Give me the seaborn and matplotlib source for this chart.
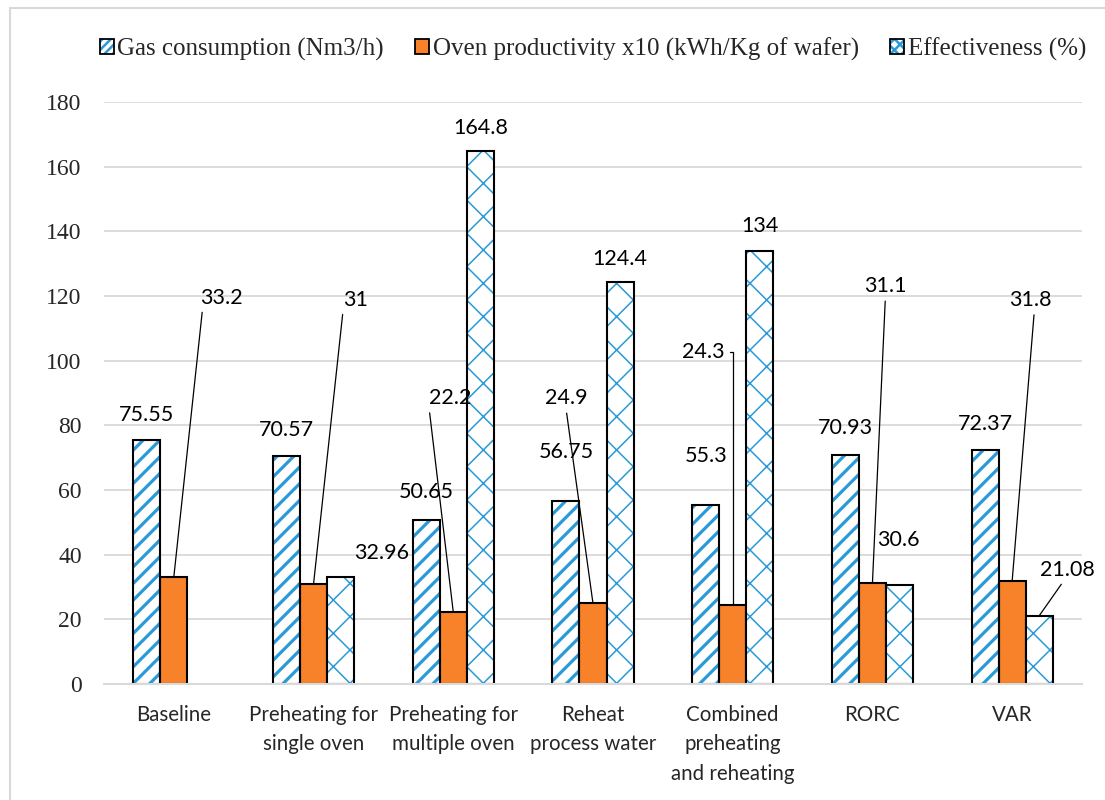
import numpy as np
import pandas as pd
import seaborn as sns
import matplotlib.pyplot as plt
from matplotlib.patches import Patch, Rectangle
from matplotlib.legend_handler import HandlerTuple
from matplotlib.lines import Line2D

# ---- data -------------------------------------------------------------
categories = ["Baseline", "Preheating for\nsingle oven", "Preheating for\nmultiple oven",
              "Reheat\nprocess water", "Combined\npreheating\nand reheating", "RORC", "VAR"]
series = ["Gas consumption (Nm3/h)",
          "Oven productivity x10 (kWh/Kg of wafer)",
          "Effectiveness (%)"]
gas = [75.55, 70.57, 50.65, 56.75, 55.3, 70.93, 72.37]
oven = [33.2, 31, 22.2, 24.9, 24.3, 31.1, 31.8]
effect = [np.nan, 32.96, 164.8, 124.4, 134, 30.6, 21.08]
y_ticks = [0, 20, 40, 60, 80, 100, 120, 140, 160, 180]

df = pd.DataFrame({
    "category": categories * 3,
    "series": [s for s in series for _ in categories],
    "value": gas + oven + effect,
})

# ---- styling ----------------------------------------------------------
BLUE = "#2A9AD8"
ORANGE = "#F7822A"
GRID = "#D9D9D9"
SERIF = ["Liberation Serif", "DejaVu Serif"]
SANS = ["Lato", "DejaVu Sans"]

sns.set_style("white")
plt.rcParams["font.family"] = SANS
plt.rcParams["hatch.linewidth"] = 1.8

fig = plt.figure(figsize=(11.05, 8), dpi=100)
W, H = 1105, 800
ax = fig.add_axes([104 / W, 1 - 684 / H, (1082 - 104) / W, 582 / H])

sns.barplot(data=df, x="category", y="value", hue="series",
            order=categories, hue_order=series,
            palette=["white", ORANGE, "white"], saturation=1,
            width=0.58, gap=0, errorbar=None, legend=False, ax=ax)

hatches = ["//", None, "x"]
hatch_lw = [2.3, None, 1.1]
for k, cont in enumerate(ax.containers):
    for bar in cont:
        h = bar.get_height()
        if h is None or np.isnan(h):
            bar.set_visible(False)
            continue
        if hatches[k]:
            bar.set_facecolor("white")
            bar.set_edgecolor(BLUE)
            bar.set_linewidth(0)
            bar.set_hatch(hatches[k])
            if hasattr(bar, "set_hatch_linewidth"):
                bar.set_hatch_linewidth(hatch_lw[k])
            ax.add_patch(Rectangle(bar.get_xy(), bar.get_width(), h,
                                   fill=False, edgecolor="black", linewidth=1.5,
                                   zorder=bar.get_zorder() + 0.1))
        else:
            bar.set_edgecolor("black")
            bar.set_linewidth(1.5)

# ---- value labels -----------------------------------------------------
label_kw = dict(textcoords="offset pixels", ha="center", va="center",
                fontsize=15.5, family=SANS, color="black")
line_kw = dict(arrowstyle="-", color="black", lw=0.9, shrinkA=1, shrinkB=0)

gas_off = [(0, 25), (0, 26), (0, 28), (0, 49), (0, 49), (0, 27), (0, 26)]
oven_off = [(48, 279), (42, 284), (-3, 214), (-27, 205), (-29, 253), (13, 297), (18, 281)]
oven_rel = [(0.05, 0), (0, 0), (0, 0), (0.5, 0), (1, 0.5), (0.5, 0), (0.6, 0)]
eff_off = [None, (41, 24), (0, 23), (0, 23), (0, 25), (-1, 45), (28, 46)]


def fmt(v):
    return f"{v:g}"


for k, cont in enumerate(ax.containers):
    for bar in cont:
        h = bar.get_height()
        if h is None or np.isnan(h):
            continue
        xc = bar.get_x() + bar.get_width() / 2
        i = int(round(xc))
        if k == 0:
            ax.annotate(fmt(h), (xc, h), xytext=gas_off[i], **label_kw)
        elif k == 1:
            conn = "angle,angleA=0,angleB=90,rad=0" if oven_rel[i] == (1, 0.5) else "arc3"
            ax.annotate(fmt(h), (xc, h), xytext=oven_off[i],
                        arrowprops=dict(relpos=oven_rel[i], connectionstyle=conn, **line_kw),
                        **label_kw)
        else:
            dx, dy = eff_off[i]
            if dy > 40 and dx > 10:
                ax.annotate(fmt(h), (xc, h), xytext=(dx, dy),
                            arrowprops=dict(relpos=(0.45, 0), **line_kw), **label_kw)
            else:
                ax.annotate(fmt(h), (xc, h), xytext=(dx, dy), **label_kw)

# ---- axes -------------------------------------------------------------
ax.set_ylim(0, 180)
ax.set_xlim(-0.5, len(categories) - 0.5)
ax.set_yticks(y_ticks)
ax.set_yticklabels([str(t) for t in y_ticks], family=SERIF, fontsize=17)
ax.set_xticks(range(len(categories)))
ax.set_xticklabels(categories, family=SANS, fontsize=14.8, linespacing=1.6,
                   multialignment="center")
ax.tick_params(axis="y", length=0, pad=16)
ax.tick_params(axis="x", length=0, pad=15)
ax.set_xlabel("")
ax.set_ylabel("")
ax.yaxis.grid(True, color=GRID, linewidth=1.3)
ax.xaxis.grid(False)
ax.set_axisbelow(True)
for side in ["top", "right", "left"]:
    ax.spines[side].set_visible(False)
ax.spines["bottom"].set_color(GRID)
ax.spines["bottom"].set_linewidth(1.5)

# ---- legend -----------------------------------------------------------
def hatched_key(hatch):
    fill = Patch(facecolor="white", edgecolor=BLUE, hatch=hatch, linewidth=0)
    if hasattr(fill, "set_hatch_linewidth"):
        fill.set_hatch_linewidth(1.6)
    return (fill, Patch(fill=False, edgecolor="black", linewidth=1.3))


handles = [
    hatched_key("////"),
    (Patch(facecolor=ORANGE, edgecolor="black", linewidth=1.3),),
    hatched_key("xxx"),
]
ax.legend(handles, series, handler_map={tuple: HandlerTuple(ndivide=1, pad=0)},
          loc="center", bbox_to_anchor=(0.5, 1 + 53 / 582), ncol=3, frameon=False,
          prop={"family": SERIF, "size": 18}, handlelength=0.55, handleheight=0.55,
          handletextpad=0.15, columnspacing=1.25, borderaxespad=0, borderpad=0)

# light chart-area frame
fig.add_artist(Line2D([10 / W, 10 / W], [0, 1 - 8 / H], color=GRID, lw=1.5))
fig.add_artist(Line2D([10 / W, 1], [1 - 8 / H, 1 - 8 / H], color=GRID, lw=1.5))

fig.savefig("out.png", dpi=100)
